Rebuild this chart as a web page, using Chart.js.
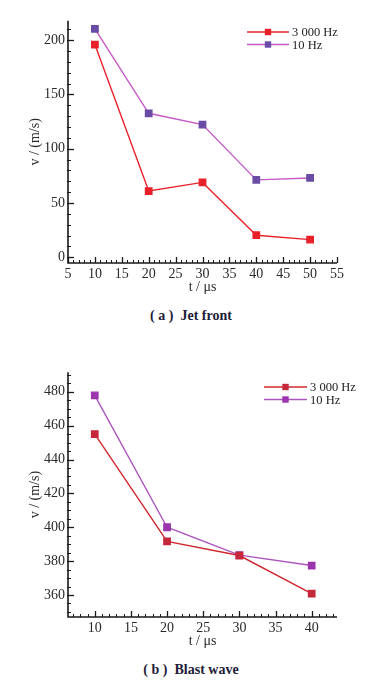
<!DOCTYPE html>
<html>
<head>
<meta charset="utf-8">
<script src="https://cdn.jsdelivr.net/npm/chart.js@4.4.1/dist/chart.umd.min.js"></script>
<style>
  html, body { margin: 0; padding: 0; background: #fff; }
  body { width: 377px; height: 684px; position: relative; overflow: hidden; font-family: "Liberation Serif", "DejaVu Serif", serif; }
  canvas { position: absolute; left: 0; }
  #c1 { top: 0; }
  #c2 { top: 354px; }
  .cap { position: absolute; left: 91px; width: 200px; text-align: center; font-weight: bold; font-size: 14px; line-height: 18px; color: #1c1c38; font-family: "Liberation Serif", serif; }
</style>
</head>
<body>
<canvas id="c1" width="377" height="300"></canvas>
<div class="cap" style="top:307px;">( a )&nbsp; Jet front</div>
<canvas id="c2" width="377" height="300"></canvas>
<div class="cap" style="top:661px;">( b )&nbsp; Blast wave</div>
<script>
// ---------- data ----------
const timesA = [10, 20, 30, 40, 50];
const jet3000 = [196, 61, 69, 20.3, 16.2];
const jet10 = [210.5, 132.7, 122.3, 71.3, 73.1];

const timesB = [10, 20, 30, 40];
const blast3000 = [455, 391.6, 383.3, 360.8];
const blast10 = [477.9, 400, 383.5, 377.4];

const xTicksA = [5, 10, 15, 20, 25, 30, 35, 40, 45, 50, 55];
const yTicksA = [0, 50, 100, 150, 200];
const xTicksB = [10, 15, 20, 25, 30, 35, 40];
const yTicksB = [360, 380, 400, 420, 440, 460, 480];

const seriesLabels = ['3 000 Hz', '10 Hz'];

// ---------- plugins ----------
const axesPlugin = {
  id: 'axesPlugin',
  beforeDatasetsDraw(chart, args, opts) {
    const { ctx, chartArea: a, scales: { x, y } } = chart;
    ctx.save();
    ctx.strokeStyle = '#1a1a1a';
    ctx.lineWidth = 1;
    const drawX = (v, len) => {
      const px = Math.round(x.getPixelForValue(v)) + 0.5;
      ctx.beginPath(); ctx.moveTo(px, a.bottom); ctx.lineTo(px, a.bottom - len); ctx.stroke();
    };
    const drawY = (v, len) => {
      const py = Math.round(y.getPixelForValue(v)) + 0.5;
      ctx.beginPath(); ctx.moveTo(a.left - 1, py); ctx.lineTo(a.left + len, py); ctx.stroke();
    };
    const xs = opts.xMinor, ys = opts.yMinor;
    for (let i = Math.ceil(x.min / xs); i * xs <= x.max + 1e-9; i++) drawX(i * xs, 3);
    for (let i = Math.ceil(y.min / ys); i * ys <= y.max + 1e-9; i++) drawY(i * ys, 3);
    ctx.lineWidth = 1.3;
    x.ticks.forEach(t => drawX(t.value, 6));
    y.ticks.forEach(t => drawY(t.value, 6));
    ctx.lineWidth = 1.6;
    ctx.beginPath();
    ctx.moveTo(a.left, a.top);
    ctx.lineTo(a.left, a.bottom);
    ctx.lineTo(a.right, a.bottom);
    ctx.stroke();
    ctx.restore();
  }
};

const legendPlugin = {
  id: 'legendPlugin',
  afterDatasetsDraw(chart, args, opts) {
    const { ctx } = chart;
    ctx.save();
    ctx.font = '12.5px "Liberation Serif", serif';
    ctx.textBaseline = 'middle';
    ctx.textAlign = 'left';
    chart.data.datasets.forEach((ds, i) => {
      const yy = opts.y + i * opts.rowGap;
      ctx.strokeStyle = ds.borderColor;
      ctx.lineWidth = 1.5;
      ctx.beginPath(); ctx.moveTo(opts.x1, yy); ctx.lineTo(opts.x2, yy); ctx.stroke();
      const mx = (opts.x1 + opts.x2) / 2;
      ctx.fillStyle = ds.pointBackgroundColor;
      ctx.fillRect(mx - 3.2, yy - 3.2, 6.4, 6.4);
      ctx.fillStyle = '#222';
      ctx.fillText(ds.label, opts.x2 + 3, yy + 1);
    });
    ctx.restore();
  }
};

const tickFont = { family: '"Liberation Serif", serif', size: 14 };

function makeChart(id, xs, s1, s2, col, xr, yr, xt, yt, minors, leg, padTop) {
  const mk = (arr) => arr.map((v, i) => ({ x: xs[i], y: v }));
  return new Chart(document.getElementById(id), {
    type: 'line',
    data: {
      datasets: [
        { label: seriesLabels[0], data: mk(s1), borderColor: col[0], pointBackgroundColor: col[1],
          pointBorderColor: col[1], borderWidth: 1.4, pointStyle: 'rect', pointRadius: 4.5, tension: 0 },
        { label: seriesLabels[1], data: mk(s2), borderColor: col[2], pointBackgroundColor: col[3],
          pointBorderColor: col[3], borderWidth: 1.4, pointStyle: 'rect', pointRadius: 4.5, tension: 0 }
      ]
    },
    options: {
      responsive: false,
      animation: false,
      devicePixelRatio: 1,
      layout: { padding: { left: 0, top: padTop, right: 40, bottom: 0 } },
      plugins: {
        legend: { display: false },
        tooltip: { enabled: false },
        axesPlugin: { xMinor: minors[0], yMinor: minors[1] },
        legendPlugin: leg
      },
      scales: {
        x: {
          type: 'linear', min: xr[0], max: xr[1],
          afterBuildTicks: s => { s.ticks = xt.map(v => ({ value: v })); },
          afterFit: s => { s.height = 37; },
          grid: { display: false, drawTicks: false }, border: { display: false },
          ticks: { font: tickFont, color: '#2a2a2a', padding: 3, maxRotation: 0, autoSkip: false },
          title: { display: true, text: 't / μs', font: tickFont, color: '#2a2a2a', padding: { top: 0, bottom: 4.6 } }
        },
        y: {
          type: 'linear', min: yr[0], max: yr[1],
          afterBuildTicks: s => { s.ticks = yt.map(v => ({ value: v })); },
          afterFit: s => { s.width = 68; },
          grid: { display: false, drawTicks: false }, border: { display: false },
          ticks: { font: tickFont, color: '#2a2a2a', padding: 3, autoSkip: false },
          title: { display: true, text: 'v / (m/s)', font: tickFont, color: '#2a2a2a', padding: { top: 26.6, bottom: 0 } }
        }
      }
    },
    plugins: [axesPlugin, legendPlugin]
  });
}

makeChart('c1', timesA, jet3000, jet10,
  ['#e8232b', '#e8202a', '#c75ac6', '#6a4ca6'],
  [5, 55], [-5.3, 218], xTicksA, yTicksA, [1, 10],
  { x1: 247, x2: 289, y: 32, rowGap: 12.5 }, 20.7);

makeChart('c2', timesB, blast3000, blast10,
  ['#d0282e', '#c4283a', '#ad55bf', '#9c34ad'],
  [6.3, 43.5], [347, 491.5], xTicksB, yTicksB, [1, 5],
  { x1: 264, x2: 307, y: 33, rowGap: 12.5 }, 18.3);
</script>
</body>
</html>
